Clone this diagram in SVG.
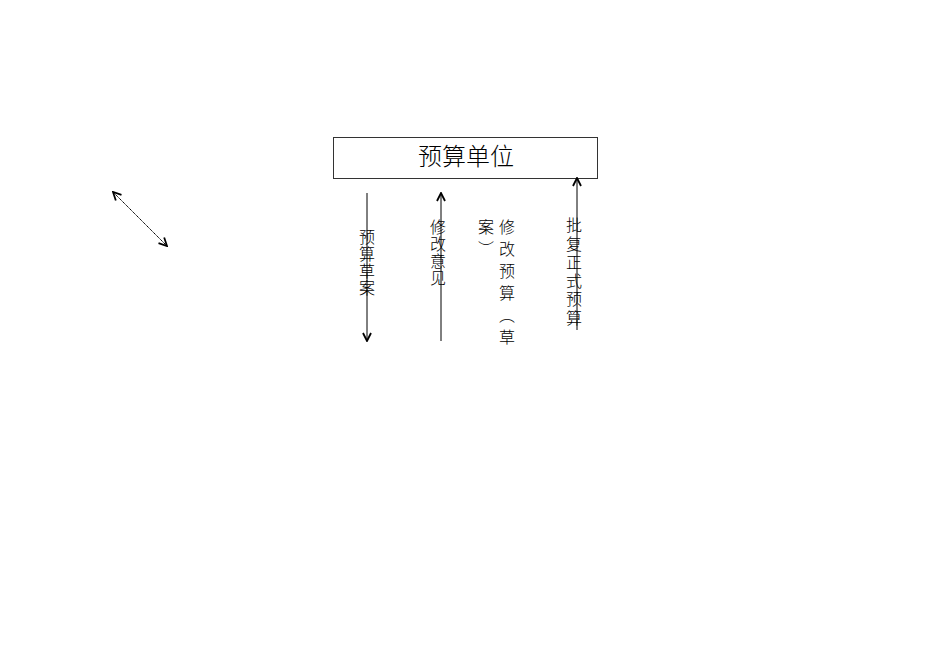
<svg xmlns="http://www.w3.org/2000/svg" width="950" height="672" viewBox="0 0 950 672">
<defs>
<marker id="ah" viewBox="0 0 10 10" refX="9" refY="5" markerWidth="10" markerHeight="10" markerUnits="userSpaceOnUse" orient="auto-start-reverse">
<path d="M1,1 L9,5 L1,9" fill="none" stroke="#000" stroke-width="1.8"/>
</marker>
<style>
.v{font-family:"Noto Sans CJK SC","Liberation Sans",sans-serif;font-size:16px;font-weight:300;fill:#000;writing-mode:vertical-rl;}
.ln{stroke:#000;stroke-width:1;fill:none;}
</style>
</defs>
<rect width="950" height="672" fill="#fff"/>
<g id="node-unit">
<rect x="333.5" y="137.5" width="264" height="41" fill="#fff" stroke="#333" stroke-width="1"/>
<text x="466" y="165" text-anchor="middle" font-family="Noto Sans CJK SC, Liberation Sans, sans-serif" font-size="24" font-weight="300">预算单位</text>
</g>
<g id="connectors">
<line class="ln" x1="367" y1="193" x2="367" y2="341" marker-end="url(#ah)"/>
<line class="ln" x1="441" y1="341" x2="441" y2="193" marker-end="url(#ah)"/>
<line class="ln" x1="577" y1="330" x2="577" y2="178" marker-end="url(#ah)"/>
<line class="ln" x1="113" y1="192" x2="167" y2="246" stroke-dasharray="1.5,0.5" marker-start="url(#ah)" marker-end="url(#ah)"/>
</g>
<g id="labels">
<text class="v" x="367" y="229" letter-spacing="1">预算草案</text>
<text class="v" x="438" y="219" letter-spacing="1">修改意见</text>
<text class="v" x="507" y="219" letter-spacing="6">修改预算（草</text>
<text class="v" x="486" y="219" letter-spacing="6">案）</text>
<text class="v" x="574" y="217" letter-spacing="2.6">批复正式预算</text>
</g>
</svg>
